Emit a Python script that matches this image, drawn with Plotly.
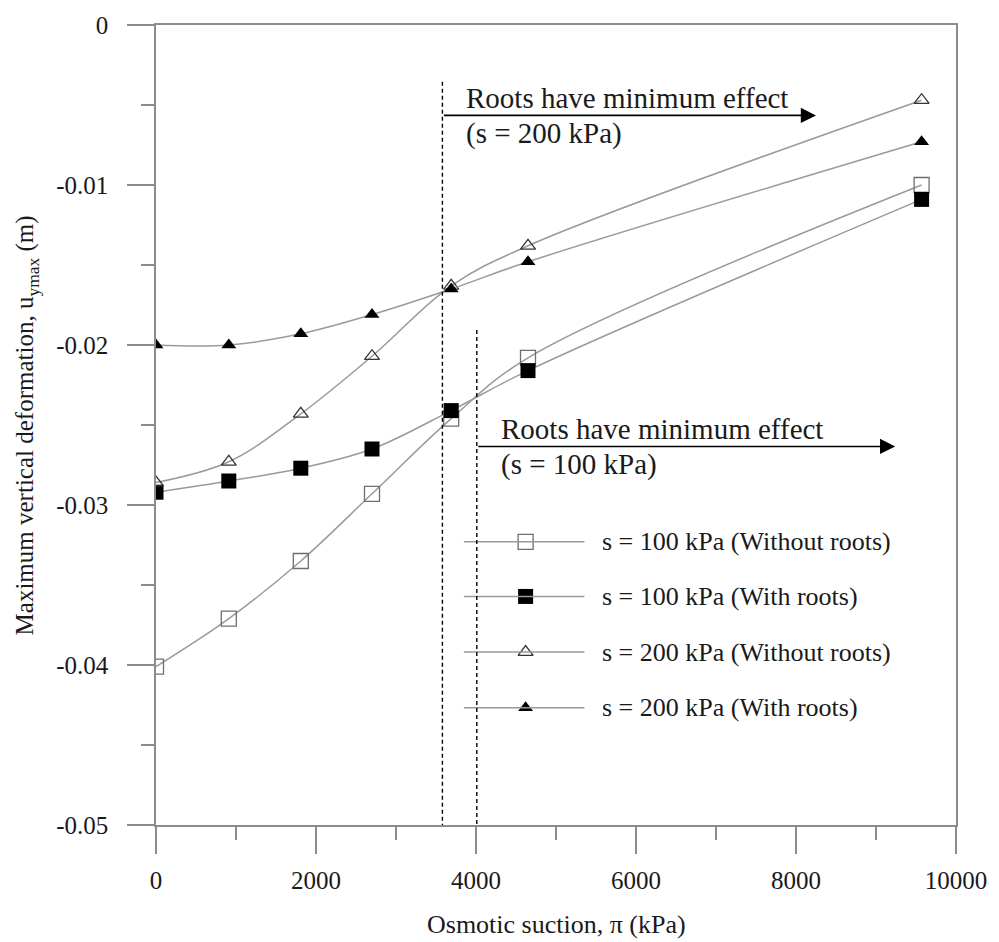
import plotly.graph_objects as go

# Osmotic suction (kPa) at which the deformation was computed
osmotic_suction = [0, 910, 1810, 2700, 3690, 4650, 9570]

# Maximum vertical deformation u_ymax (m)
s100_without_roots = [-0.0401, -0.0371, -0.0335, -0.0293, -0.0246, -0.0208, -0.0100]
s100_with_roots = [-0.0292, -0.0285, -0.0277, -0.0265, -0.0241, -0.0216, -0.0109]
s200_without_roots = [-0.0286, -0.0273, -0.0243, -0.0207, -0.0163, -0.0138, -0.0047]
s200_with_roots = [-0.0200, -0.0200, -0.0193, -0.0181, -0.0165, -0.0148, -0.0073]

series_names = [
    "s = 100 kPa (Without roots)",
    "s = 100 kPa (With roots)",
    "s = 200 kPa (Without roots)",
    "s = 200 kPa (With roots)",
]

# Suction beyond which roots have minimum effect
threshold_s200 = 3580
threshold_s100 = 4010

x_tickvals = [0, 2000, 4000, 6000, 8000, 10000]
x_ticktext = ["0", "2000", "4000", "6000", "8000", "10000"]
y_tickvals = [0, -0.01, -0.02, -0.03, -0.04, -0.05]
y_ticktext = ["0", "-0.01", "-0.02", "-0.03", "-0.04", "-0.05"]

FONT = "Liberation Serif, Times New Roman, serif"
LINE_GREY = "#9a9a9a"
AXIS_GREY = "#8c8c8c"
TEXT = "#1a1a1a"

styles = [
    dict(symbol="square-open", size=15, color="#6e6e6e", line=dict(width=1.3, color="#6e6e6e")),
    dict(symbol="square", size=15, color="#000000", line=dict(width=0)),
    dict(symbol="triangle-up-open", size=13, color="#333333", line=dict(width=1.3, color="#333333")),
    dict(symbol="triangle-up", size=13, color="#000000", line=dict(width=0)),
]
values = [s100_without_roots, s100_with_roots, s200_without_roots, s200_with_roots]

fig = go.Figure()

for name, ys, st in zip(series_names, values, styles):
    fig.add_trace(go.Scatter(
        x=osmotic_suction, y=ys, name=name, mode="lines+markers",
        line=dict(color=LINE_GREY, width=1.5, shape="spline", smoothing=1.0),
        marker=st, showlegend=False,
    ))

# Hand-drawn legend on a unit overlay axis
legend_rows = [0.354, 0.2857, 0.2161, 0.1466]
legend_line_x0, legend_line_x1, legend_marker_x, legend_text_x = 0.3848, 0.5355, 0.4620, 0.5554
for name, st, ly in zip(series_names, styles, legend_rows):
    fig.add_shape(type="line", xref="paper", yref="paper",
                  x0=legend_line_x0, x1=legend_line_x1, y0=ly, y1=ly,
                  line=dict(color=LINE_GREY, width=1.5))
    fig.add_trace(go.Scatter(
        x=[legend_marker_x], y=[ly], xaxis="x2", yaxis="y2", mode="markers",
        marker=st, showlegend=False, hoverinfo="skip",
    ))
    fig.add_annotation(x=legend_text_x, y=ly, xref="paper", yref="paper",
                       text=name, showarrow=False, xanchor="left", yanchor="middle",
                       font=dict(family=FONT, size=26, color=TEXT))

# Threshold dashed lines
fig.add_shape(type="line", x0=threshold_s200, x1=threshold_s200, y0=-0.00354, y1=-0.05,
              line=dict(color="black", width=1.4, dash="4px,3px"))
fig.add_shape(type="line", x0=threshold_s100, x1=threshold_s100, y0=-0.01907, y1=-0.05,
              line=dict(color="black", width=1.4, dash="4px,3px"))

# Arrows and labels
arrows = [
    dict(x0=threshold_s200, x1=8250, y=-0.00565, label_x=3850, note="(s = 200 kPa)"),
    dict(x0=threshold_s100, x1=9240, y=-0.02634, label_x=4290, note="(s = 100 kPa)"),
]
for a in arrows:
    fig.add_annotation(x=a["x1"], y=a["y"], ax=a["x0"], ay=a["y"],
                       xref="x", yref="y", axref="x", ayref="y",
                       text="", showarrow=True, arrowhead=2, arrowsize=1.9,
                       arrowwidth=1.6, arrowcolor="black", standoff=0, startstandoff=0)
    fig.add_annotation(x=a["label_x"], y=a["y"], xref="x", yref="y",
                       text="Roots have minimum effect", showarrow=False,
                       xanchor="left", yanchor="bottom", yshift=-1,
                       font=dict(family=FONT, size=29, color=TEXT))
    fig.add_annotation(x=a["label_x"], y=a["y"], xref="x", yref="y",
                       text=a["note"], showarrow=False,
                       xanchor="left", yanchor="top", yshift=0,
                       font=dict(family=FONT, size=29, color=TEXT))

# Axis titles
fig.add_annotation(x=0.5, y=-0.124, xref="paper", yref="paper",
                   text="Osmotic suction, π (kPa)", showarrow=False,
                   xanchor="center", yanchor="middle",
                   font=dict(family=FONT, size=26, color=TEXT))
fig.add_annotation(x=-0.162, y=0.5, xref="paper", yref="paper",
                   text="Maximum vertical deformation, u<sub>ymax</sub> (m)", textangle=-90,
                   showarrow=False, xanchor="center", yanchor="middle",
                   font=dict(family=FONT, size=25, color=TEXT))

axis_common = dict(
    showgrid=False, zeroline=False, showline=True, linecolor=AXIS_GREY, linewidth=1.5,
    mirror=True, ticks="outside", ticklen=27, tickwidth=1.5, tickcolor=AXIS_GREY,
    tickfont=dict(family=FONT, size=25, color=TEXT),
)

fig.update_layout(
    width=999, height=942,
    margin=dict(l=156, r=40, t=20, b=117),
    paper_bgcolor="white", plot_bgcolor="white",
    showlegend=False,
    xaxis=dict(range=[0, 10000], tickmode="array", tickvals=x_tickvals, ticktext=x_ticktext,
               minor=dict(ticks="outside", ticklen=13, tickwidth=1.5, tickcolor=AXIS_GREY,
                          tick0=0, dtick=1000),
               ticklabelstandoff=5, **axis_common),
    yaxis=dict(range=[-0.05, 0], tickmode="array", tickvals=y_tickvals, ticktext=y_ticktext,
               minor=dict(ticks="outside", ticklen=13, tickwidth=1.5, tickcolor=AXIS_GREY,
                          tick0=0, dtick=0.005),
               ticklabelstandoff=14, **axis_common),
    xaxis2=dict(overlaying="x", range=[0, 1], visible=False, fixedrange=True),
    yaxis2=dict(overlaying="y", range=[0, 1], visible=False, fixedrange=True),
)

fig.write_html("out.html")
